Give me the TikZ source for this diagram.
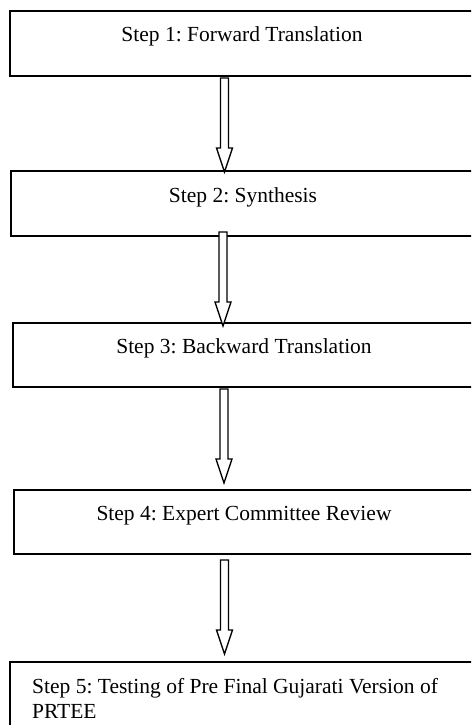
\documentclass[tikz,border=0pt]{standalone}
\usepackage{fontspec}
\setmainfont{Liberation Serif}
\usetikzlibrary{calc}
\frenchspacing
\tikzset{
  stepbox/.style={draw, line width=1.7pt, rectangle, inner sep=0pt, outer sep=0pt,
    minimum width=480pt, anchor=north west},
  steptext/.style={anchor=base, inner sep=0pt, font=\fontsize{21.5}{24}\selectfont\frenchspacing},
  blockarrow/.style={draw, line width=1.3pt, fill=white, line join=miter}
}
\newcommand\blkarrow[5]{%
  \path[blockarrow] let \p1=(#3,0), \p2=(#1.south), \p3=(#2.north) in
    (\x1-4pt,\y2-#4) -- (\x1+4pt,\y2-#4) -- (\x1+4pt,\y3+#5+24pt) -- (\x1+8pt,\y3+#5+24pt)
    -- (\x1,\y3+#5) -- (\x1-8pt,\y3+#5+24pt) -- (\x1-4pt,\y3+#5+24pt) -- cycle;}
\begin{document}
\begin{tikzpicture}[x=1pt,y=-1pt]
\clip (0,0) rectangle (471,725);
\fill[white] (0,0) rectangle (471,725);
\node[stepbox, minimum height=65pt] (b1) at (10,11) {};
\node[stepbox, minimum height=65pt] (b2) at (11,171) {};
\node[stepbox, minimum height=64pt] (b3) at (13,323) {};
\node[stepbox, minimum height=64pt] (b4) at (14,490) {};
\node[stepbox, minimum height=100pt] (b5) at (10,662) {};
\node[steptext] (t1) at (242,42) {Step 1: Forward Translation};
\node[steptext] (t2) at (243,202) {Step 2: Synthesis};
\node[steptext] (t3) at (244,353) {Step 3: Backward Translation};
\node[steptext] (t4) at (244,520) {Step 4: Expert Committee Review};
\node[steptext, anchor=base west] (t5a) at (32,693) {Step 5: Testing of Pre Final Gujarati Version of};
\node[steptext, anchor=base west] (t5b) at (32,718) {PRTEE};
\blkarrow{b1}{b2}{224.5}{2pt}{-1pt}
\blkarrow{b2}{b3}{223}{-4pt}{-3pt}
\blkarrow{b3}{b4}{224}{2pt}{7pt}
\blkarrow{b4}{b5}{224.5}{6pt}{8pt}
\end{tikzpicture}
\end{document}
